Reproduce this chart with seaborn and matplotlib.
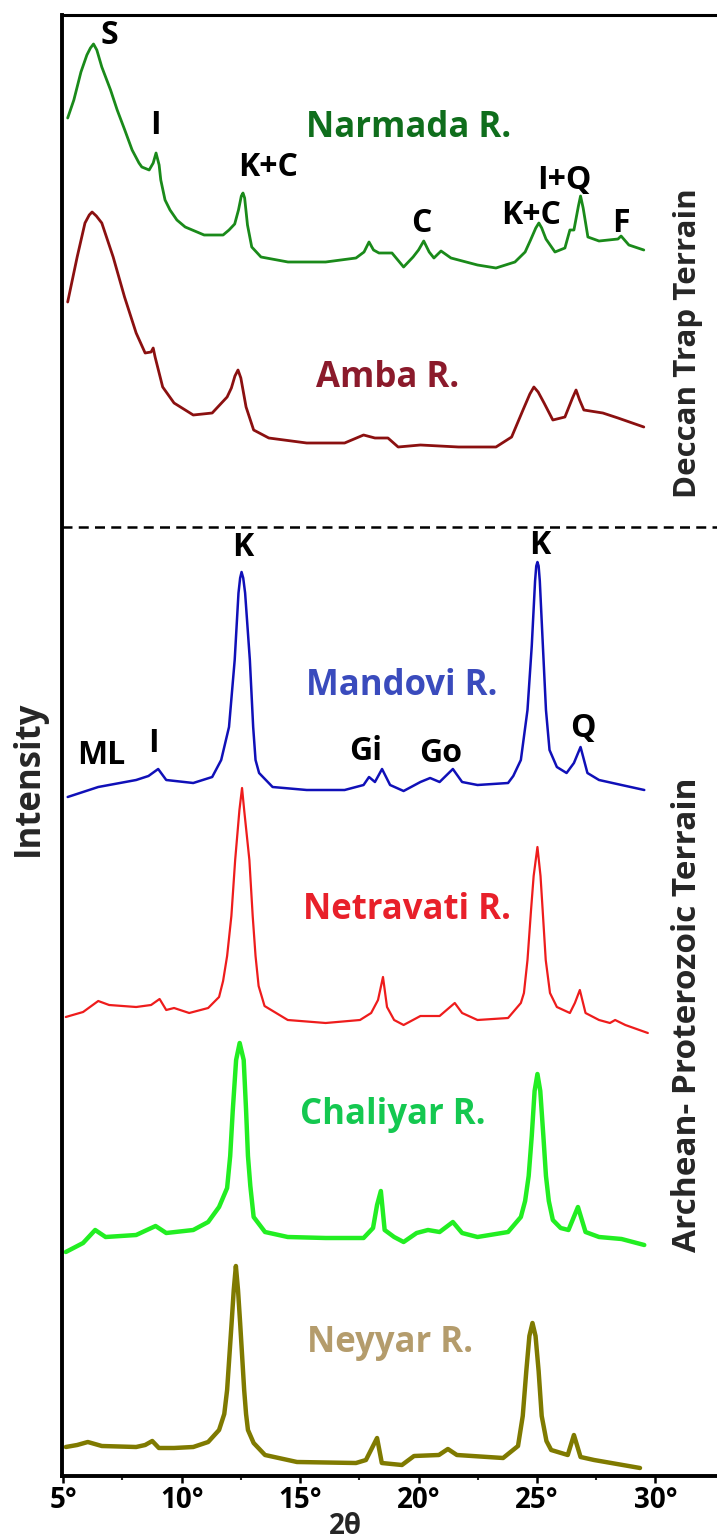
import matplotlib
matplotlib.use("Agg")
import matplotlib.pyplot as plt
import seaborn as sns
import pandas as pd

sns.set_theme(style="white")
plt.rcParams['font.family'] = ['Open Sans', 'DejaVu Sans']
plt.rcParams['font.weight'] = 'bold'

# ---------------- data (2-theta in degrees, intensity in arbitrary stacked units) -------------
narmada_x = [5.19, 5.45, 5.75, 6.0, 6.15, 6.28, 6.42, 6.63, 7.0, 7.28, 7.6, 7.91, 8.2, 8.32, 8.63, 8.8,
             8.92, 9.05, 9.12, 9.3, 9.51, 9.8, 10.15, 10.95, 11.75, 12.0, 12.24, 12.4, 12.52, 12.59,
             12.66, 12.78, 12.96, 13.35, 14.49, 16.08, 17.36, 17.7, 17.91, 18.1, 18.33, 18.88, 19.37,
             19.77, 20.0, 20.22, 20.45, 20.65, 20.95, 21.37, 22.49, 23.27, 24.07, 24.5, 24.73, 24.95,
             25.08, 25.2, 25.38, 25.76, 26.18, 26.39, 26.56, 26.75, 26.84, 26.95, 27.15, 27.62, 28.42,
             28.55, 28.88, 29.51]
narmada_y = [1358, 1376, 1404, 1421, 1428, 1432, 1426, 1409, 1386, 1366, 1346, 1326, 1313, 1309, 1306, 1313,
             1323, 1311, 1296, 1276, 1266, 1256, 1249, 1241, 1241, 1246, 1252, 1266, 1280, 1283,
             1278, 1251, 1229, 1219, 1214, 1214, 1218, 1224, 1234, 1226, 1223, 1223, 1209,
             1219, 1226, 1235, 1224, 1218, 1225, 1218, 1211, 1208, 1214, 1224, 1236, 1248,
             1253, 1248, 1237, 1224, 1228, 1246, 1246, 1270, 1280, 1268, 1239, 1235, 1237,
             1240, 1231, 1226]

amba_x = [5.19, 5.59, 5.92, 6.1, 6.22, 6.4, 6.63, 7.11, 7.59, 8.08, 8.46, 8.71, 8.8, 8.88, 9.2, 9.68,
          10.49, 11.29, 11.92, 12.1, 12.25, 12.38, 12.5, 12.72, 13.04, 13.68, 15.28, 16.88, 17.68,
          18.16, 18.71, 19.14, 20.08, 21.69, 23.27, 23.93, 24.41, 24.7, 24.87, 25.05, 25.3, 25.67,
          26.18, 26.5, 26.65, 26.8, 26.98, 27.78, 28.42, 29.51]
amba_y = [1174, 1219, 1253, 1261, 1264, 1260, 1253, 1219, 1179, 1143, 1123, 1124, 1128, 1119, 1089, 1073,
          1061, 1063, 1079, 1088, 1100, 1106, 1098, 1069, 1046, 1038, 1033, 1033, 1041,
          1038, 1038, 1029, 1031, 1029, 1029, 1039, 1066, 1082, 1089, 1084, 1073, 1056,
          1059, 1078, 1086, 1076, 1066, 1063, 1058, 1049]

mandovi_x = [5.19, 6.48, 8.08, 8.6, 9.01, 9.35, 10.49, 11.29, 11.67, 12.0, 12.24, 12.4, 12.47, 12.53,
             12.6, 12.68, 12.88, 13.02, 13.12, 13.27, 13.84, 15.28, 16.88, 17.68, 17.91, 18.16, 18.46,
             18.8, 19.37, 20.08, 20.49, 20.89, 21.45, 21.84, 22.49, 23.78, 24.0, 24.32, 24.6, 24.78,
             24.92, 24.97, 25.02, 25.07, 25.12, 25.25, 25.38, 25.53, 25.84, 26.25, 26.56, 26.84,
             27.13, 27.62, 28.57, 29.53]
mandovi_y = [679, 689, 696, 700, 707, 696, 693, 699, 716, 749, 816, 883, 898, 904,
             898, 883, 816, 749, 716, 703, 689, 686, 686, 691, 699, 694, 707,
             691, 685, 694, 698, 694, 707, 694, 691, 693, 700, 716, 766, 830,
             895, 910, 914, 910, 895, 830, 766, 726, 709, 703, 713, 729,
             703, 696, 691, 686]

netravati_x = [5.11, 5.84, 6.48, 6.94, 8.08, 8.71, 9.07, 9.35, 9.68, 10.32, 11.12, 11.58, 11.75, 11.92,
               12.1, 12.26, 12.44, 12.55, 12.64, 12.86, 13.0, 13.12, 13.25, 13.5, 14.48, 16.08, 17.53,
               18.0, 18.29, 18.5, 18.67, 18.97, 19.37, 20.08, 20.89, 21.53, 21.84, 22.49, 23.78, 24.32,
               24.45, 24.6, 24.75, 24.86, 25.02, 25.15, 25.24, 25.37, 25.55, 25.84, 26.39, 26.6, 26.81,
               27.05, 27.62, 28.08, 28.3, 28.73, 29.68]
netravati_y = [459, 464, 475, 471, 469, 471, 477, 466, 468, 463, 468, 479, 495, 520,
               560, 616, 666, 688, 666, 616, 560, 520, 490, 470, 456, 453, 456,
               463, 476, 499, 469, 456, 451, 460, 460, 473, 463, 456, 458, 473,
               483, 516, 566, 600, 629, 600, 566, 516, 483, 469, 463, 473, 486,
               463, 456, 453, 456, 451, 443]

chaliyar_x = [5.11, 5.84, 6.35, 6.79, 8.08, 8.9, 9.35, 10.49, 11.12, 11.58, 11.92, 12.05, 12.16, 12.3,
              12.45, 12.62, 12.72, 12.8, 12.9, 13.04, 13.52, 14.48, 16.08, 17.68, 18.08, 18.25, 18.41,
              18.57, 18.97, 19.37, 19.92, 20.4, 20.89, 21.45, 21.84, 22.49, 23.78, 24.32, 24.5, 24.65,
              24.78, 24.9, 25.02, 25.14, 25.27, 25.38, 25.5, 25.67, 26.0, 26.33, 26.73, 27.05, 27.62,
              28.57, 29.53]
chaliyar_y = [224, 233, 246, 239, 241, 250, 243, 246, 254, 269, 288, 320, 366, 416,
              433, 416, 366, 320, 290, 259, 244, 239, 238, 238, 248, 271, 285,
              246, 239, 234, 243, 246, 244, 254, 243, 239, 244, 259, 275, 300,
              340, 385, 402, 385, 340, 300, 275, 256, 248, 246, 269, 244, 239,
              237, 231]

neyyar_x = [5.11, 5.59, 6.04, 6.63, 8.08, 8.46, 8.76, 9.04, 9.68, 10.49, 11.12, 11.58, 11.8, 11.92,
            12.11, 12.2, 12.29, 12.38, 12.47, 12.64, 12.72, 12.8, 13.04, 13.52, 14.87, 17.36, 17.78,
            18.25, 18.45, 19.3, 19.81, 20.86, 21.24, 21.62, 23.57, 24.2, 24.4, 24.55, 24.68, 24.81,
            24.94, 25.07, 25.2, 25.4, 25.6, 26.3, 26.56, 26.84, 27.41, 29.35]
neyyar_y = [29, 31, 34, 30, 29, 31, 35, 28, 28, 29, 34, 46, 62, 86,
            153, 186, 210, 186, 153, 86, 62, 46, 33, 21, 14, 13, 16,
            38, 13, 11, 20, 21, 27, 21, 18, 30, 60, 105, 140, 153,
            140, 105, 60, 35, 26, 21, 41, 19, 16, 8]

samples = ["Narmada R.", "Amba R.", "Mandovi R.", "Netravati R.", "Chaliyar R.", "Neyyar R."]
series_x = [narmada_x, amba_x, mandovi_x, netravati_x, chaliyar_x, neyyar_x]
series_y = [narmada_y, amba_y, mandovi_y, netravati_y, chaliyar_y, neyyar_y]
line_colors = ["#1a8a1a", "#8b1010", "#1010b8", "#ee1c1c", "#22ee22", "#7f7a00"]
label_colors = ["#0f6e1c", "#8b1a2b", "#3a4bbd", "#e8202a", "#14c850", "#b49c6c"]
line_widths = [2.0, 2.0, 1.8, 1.6, 3.2, 3.2]

# sample label positions (2theta, intensity)
label_pos = [(19.6, 1348), (18.7, 1098), (19.3, 790), (19.5, 566), (18.9, 361), (18.8, 133)]

# peak annotations (text, 2theta, intensity)
peak_labels = [("S", 6.95, 1441), ("I", 8.9, 1350), ("K+C", 13.65, 1308), ("C", 20.1, 1253),
               ("K+C", 24.75, 1260), ("I+Q", 26.16, 1295), ("F", 28.55, 1253),
               ("K", 12.6, 929), ("K", 25.1, 931), ("ML", 6.6, 721), ("I", 8.8, 733),
               ("Gi", 17.76, 724), ("Go", 20.95, 723), ("Q", 26.94, 748)]

xticks = [5, 10, 15, 20, 25, 30]
xtick_labels = ["5°", "10°", "15°", "20°", "25°", "30°"]
minor_ticks = [7.5, 12.5, 17.5, 22.5, 27.5]
divider_y = 949

# ---------------- figure -------------------
W, H = 717, 1540
fig = plt.figure(figsize=(W / 100, H / 100), dpi=100)
ax = fig.add_axes([62 / W, 64 / H, (W - 62) / W, (1476 - 15) / H])

frames = []
for name, xs, ys in zip(samples, series_x, series_y):
    frames.append(pd.DataFrame({"two_theta": xs, "intensity": ys, "sample": name}))
df = pd.concat(frames, ignore_index=True)

for name, col, lw in zip(samples, line_colors, line_widths):
    sns.lineplot(data=df[df["sample"] == name], x="two_theta", y="intensity",
                 color=col, linewidth=lw, estimator=None, sort=False, ax=ax, legend=False)

ax.set_xlim(4.95, 32.6)
ax.set_ylim(0, 1461)

for name, col, (lx, ly) in zip(samples, label_colors, label_pos):
    ax.text(lx, ly, name, color=col, fontsize=25, fontweight="bold", ha="center", va="center")

for txt, lx, ly in peak_labels:
    ax.text(lx, ly, txt, color="black", fontsize=23, fontweight="bold", ha="center", va="center")

ax.axhline(divider_y, color="black", linestyle=(0, (4, 2.5)), linewidth=1.8)

ax.set_xticks(xticks)
ax.set_xticklabels(xtick_labels, fontsize=20, fontweight="bold")
ax.set_xticks(minor_ticks, minor=True)
ax.set_yticks([])
ax.tick_params(axis="x", which="major", direction="out", length=5, width=1.8, bottom=True, pad=2, colors="black")
ax.tick_params(axis="x", which="minor", direction="out", length=3, width=1.5, bottom=True)
ax.set_xlabel("")
ax.set_ylabel("")

for side in ["left", "bottom"]:
    ax.spines[side].set_linewidth(2.8)
    ax.spines[side].set_color("black")
ax.spines["top"].set_linewidth(2.2)
ax.spines["top"].set_color("black")
ax.spines["right"].set_visible(False)

fig.text(345 / W, 1 - 1527 / H, "2θ", fontsize=20, fontweight="bold", ha="center", va="center")
fig.text(29 / W, 1 - 778 / H, "Intensity", fontsize=25, fontweight="bold", rotation=90,
         ha="center", va="center")
fig.text(688 / W, 1 - 343 / H, "Deccan Trap Terrain", fontsize=22.5, fontweight="bold", rotation=90,
         ha="center", va="center")
fig.text(688 / W, 1 - 1015 / H, "Archean- Proterozoic Terrain", fontsize=24, fontweight="bold",
         rotation=90, ha="center", va="center")

fig.savefig("out.png", dpi=100)
